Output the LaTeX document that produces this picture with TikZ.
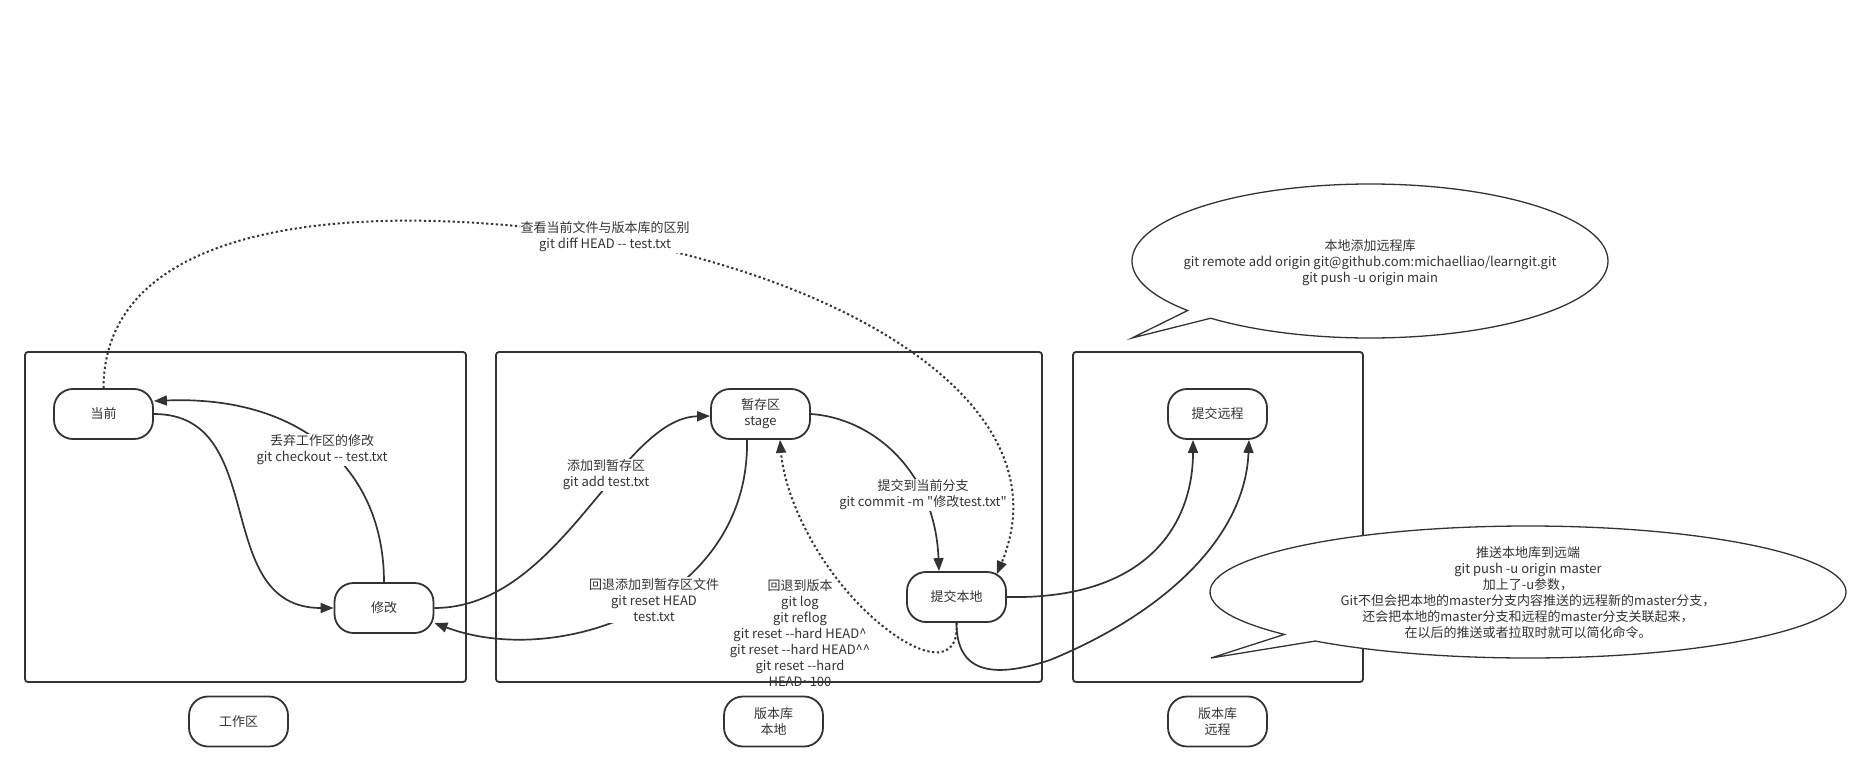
\documentclass[tikz,border=0pt]{standalone}
\usepackage{fontspec}
\newfontfamily\cjk{Noto Sans CJK SC}
\usetikzlibrary{arrows.meta,calc}
\definecolor{ink}{HTML}{333333}
\newcommand\ddash{-\kern0pt-}
\tikzset{
 every node/.style={font=\cjk\fontsize{13}{16}\selectfont, text=ink},
 region/.style={draw=ink, line width=1.8pt, rounded corners=3pt},
 state/.style={draw=ink, fill=white, line width=1.8pt, rounded corners=19pt, minimum width=99pt, minimum height=50pt, align=center, inner sep=2pt},
 conn/.style={draw=ink, line width=1.7pt, -{Triangle[length=13pt,width=10pt]}},
 dotconn/.style={conn, line width=2pt, dash pattern=on 2.2pt off 2.6pt},
 lbl/.style={fill=white, align=center, inner sep=1pt},
 note/.style={align=center, inner sep=0pt},
 bubble/.style={draw=ink, fill=white, line width=1.3pt},
}
\begin{document}
\begin{tikzpicture}[x=1pt,y=-1pt]
\useasboundingbox (0,0) rectangle (1872,784);
% regions
\draw[region] (25,352) rectangle (466,682);
\draw[region] (496,352) rectangle (1042,682);
\draw[region] (1073,352) rectangle (1363,682);
% states
\node[state] (cur) at (103.5,414) {当前};
\node[state] (mod) at (384,608) {修改};
\node[state] (stage) at (760.5,414) {暂存区\\stage};
\node[state] (loc) at (956.5,597) {提交本地};
\node[state] (rem) at (1217.5,414) {提交远程};
\node[state] (wa) at (238.5,721.5) {工作区};
\node[state] (lr) at (773.5,721.5) {版本库\\本地};
\node[state] (rr) at (1217.5,721.5) {版本库\\远程};
% connectors
\draw[conn] (cur.east) .. controls +(117,0) and +(-124,0) .. (mod.west);
\draw[conn] (mod.north) .. controls +(0,-113) and +(147,-6) .. ($(cur.east)+(0,-13)$);
\draw[conn] (mod.east) .. controls +(126,0) and +(-90,2) .. ($(stage.west)+(0,2)$);
\draw[conn] ($(stage.south)+(-13.5,0)$) .. controls +(3,161) and +(126,47) .. ($(mod.east)+(0,15)$);
\draw[conn] (stage.east) .. controls +(60,4) and +(-4,-102) .. ($(loc.north)+(-17.5,0)$);
\draw[dotconn] (cur.north) .. controls (104,230) and (330,195) .. (605,237)
  node[lbl] (l6) {查看当前文件与版本库的区别\\git diff HEAD \ddash\ test.txt}
  .. controls (860,283) and (1065,410) .. ($(loc.north east)+(-10,3)$);
\draw[dotconn] (loc.south) .. controls +(3,43) and (920,660) .. (872,617)
  .. controls (820,570) and (785,500) .. ($(stage.south)+(19.5,0)$);
\draw[conn] (loc.east) .. controls +(144,3) and +(0,81) .. ($(rem.south)+(-24.5,0)$);
\draw[conn] (loc.south) .. controls +(0,48) and (990,680) .. (1050,660)
  .. controls (1160,615) and (1245,540) .. ($(rem.south)+(31.5,0)$);
% labels
\node[lbl] (l1) at (322,450) {丢弃工作区的修改\\git checkout \ddash\ test.txt};
\node[lbl] (l2) at (606,475) {添加到暂存区\\git add test.txt};
\node[lbl] (l3) at (654,600) {回退添加到暂存区文件\\git reset HEAD\\test.txt};
\node[note] (l4) at (800,633.5) {回退到版本\\git log\\git reflog\\git reset \ddash hard HEAD\textasciicircum\\git reset \ddash hard HEAD\textasciicircum\textasciicircum\\git reset \ddash hard\\HEAD\textasciitilde 100};
\node[lbl] (l5) at (923,495) {提交到当前分支\\git commit -m "修改test.txt"};
% callouts
\coordinate (c1) at (1370,261);
\draw[bubble] ($(c1)+(132:238 and 77)$) arc[start angle=132, end angle=-220, x radius=238, y radius=77] -- (1132,338) coordinate (tip1) -- cycle;
\node[note] (n1) at (1370,263) {本地添加远程库\\git remote add origin git@github.com:michaelliao/learngit.git\\git push -u origin main};
\coordinate (c2) at (1528,592);
\draw[bubble] ($(c2)+(132:318 and 66)$) arc[start angle=132, end angle=-220, x radius=318, y radius=66] -- (1211,658) coordinate (tip2) -- cycle;
\node[note] (n2) at (1528,593) {推送本地库到远端\\git push -u origin master\\加上了-u参数，\\Git不但会把本地的master分支内容推送的远程新的master分支，\\还会把本地的master分支和远程的master分支关联起来，\\在以后的推送或者拉取时就可以简化命令。};
\end{tikzpicture}
\end{document}
